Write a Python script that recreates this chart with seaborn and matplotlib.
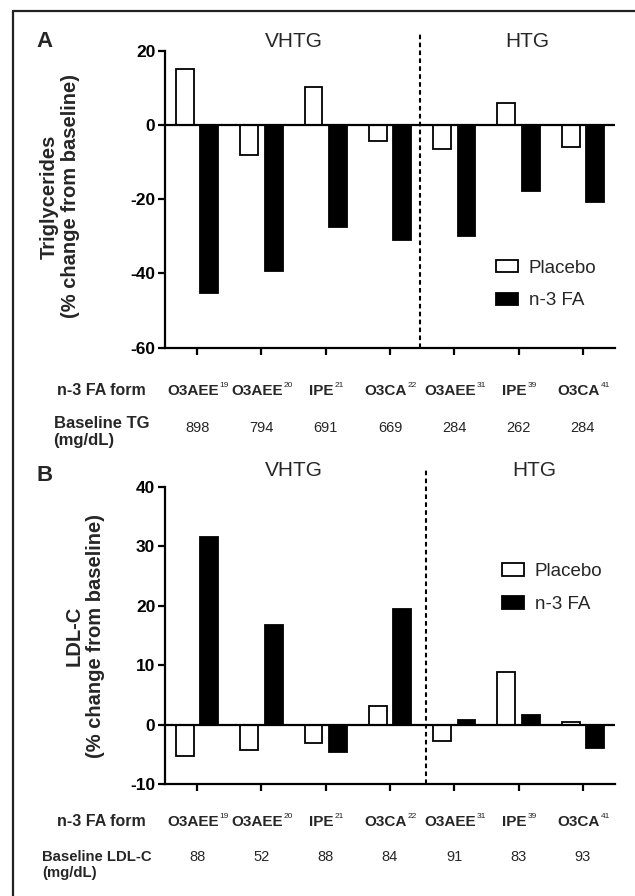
import matplotlib
matplotlib.use("Agg")
import matplotlib.pyplot as plt
from matplotlib.lines import Line2D
import seaborn as sns
import pandas as pd

# ---------------- data ----------------
forms = ["O3AEE", "O3AEE", "IPE", "O3CA", "O3AEE", "IPE", "O3CA"]
refs = ["19", "20", "21", "22", "31", "39", "41"]
groups = ["Placebo", "n-3 FA"]

tg_placebo = [15.0, -8.0, 10.2, -4.4, -6.4, 6.0, -5.9]
tg_n3 = [-45.2, -39.3, -27.4, -31.1, -29.8, -17.8, -20.8]
tg_baseline = ["898", "794", "691", "669", "284", "262", "284"]

ldl_placebo = [-5.3, -4.3, -3.1, 3.1, -2.8, 8.9, 0.5]
ldl_n3 = [31.6, 16.8, -4.6, 19.5, 0.8, 1.7, -3.9]
ldl_baseline = ["88", "52", "88", "84", "91", "83", "93"]

tg_yticks = [-60, -40, -20, 0, 20]
ldl_yticks = [-10, 0, 10, 20, 30, 40]

# ---------------- style ----------------
sns.set_style("ticks")
plt.rcParams["font.family"] = ["Liberation Sans", "DejaVu Sans"]

W, H = 635, 896
fig = plt.figure(figsize=(W / 100, H / 100), dpi=100)
fig.patch.set_facecolor("white")

def fx(px):
    return px / W

def fy(py):
    return 1 - py / H

cats = [f + r for f, r in zip(forms, refs)]
palette = {"Placebo": "white", "n-3 FA": "black"}


def make_df(plac, n3):
    rows = []
    for c, p, n in zip(cats, plac, n3):
        rows.append({"form": c, "group": "Placebo", "value": p})
        rows.append({"form": c, "group": "n-3 FA", "value": n})
    return pd.DataFrame(rows)


def panel(rect, plac, n3, baseline, yticks, ylim, dash_x, letter, letter_y,
          ylabel, ylabel_xy, top_y, htg_x, cat_y, val_y, row_lbl_y,
          base_label, base_y, base_x, base_fs, legend_anchor):
    ax = fig.add_axes(rect)
    df = make_df(plac, n3)
    sns.barplot(data=df, x="form", y="value", hue="group", order=cats,
                hue_order=groups, palette=palette, saturation=1,
                edgecolor="black", linewidth=1.3, width=0.76, gap=0.27,
                errorbar=None, ax=ax, legend=False)
    ax.set_xlim(-0.5, 6.5)
    ax.set_ylim(*ylim)
    ax.set_yticks(yticks)
    ax.set_yticklabels([str(t) for t in yticks], fontsize=12.5,
                       fontweight="bold")
    ax.set_xticks(range(len(cats)))
    ax.set_xticklabels([])
    ax.set_xlabel("")
    ax.set_ylabel("")
    for s in ["top", "right"]:
        ax.spines[s].set_visible(False)
    for s in ["left", "bottom"]:
        ax.spines[s].set_linewidth(1.6)
        ax.spines[s].set_color("black")
    ax.tick_params(axis="y", direction="out", length=5, width=1.6, pad=2,
                   colors="black")
    ax.tick_params(axis="x", direction="out", length=5, width=1.6,
                   colors="black")
    ax.axhline(0, color="black", lw=1.6, zorder=3)
    ax.set_facecolor("white")

    # dashed separator
    ax.plot([dash_x, dash_x], [0, 1.06], transform=ax.get_xaxis_transform(),
            color="black", lw=1.5, linestyle=(0, (2.2, 1.6)), clip_on=False,
            zorder=4)

    # group titles
    tr = ax.get_xaxis_transform()
    ax.text(1.5, top_y, "VHTG", transform=tr, ha="center", va="center",
            fontsize=15)
    ax.text(htg_x, top_y, "HTG", transform=tr, ha="center", va="center",
            fontsize=15)

    # category + baseline rows
    for i, (f, r, b) in enumerate(zip(forms, refs, baseline)):
        base = ax.annotate(f, xy=(i, cat_y), xycoords=tr, xytext=(-3, 0),
                           textcoords="offset points", ha="center",
                           va="center", fontsize=11, fontweight="bold",
                           annotation_clip=False)
        ax.annotate(r, xy=(1, 1), xycoords=base, xytext=(0.6, 1.5),
                    textcoords="offset points", ha="left", va="top",
                    fontsize=6, annotation_clip=False)
        ax.text(i, val_y, b, transform=tr, ha="center", va="center",
                fontsize=10.5, clip_on=False)

    fig.text(fx(146), fy(row_lbl_y), "n-3 FA form", ha="right", va="center",
             fontsize=11.5, fontweight="bold")
    fig.text(fx(base_x), fy(base_y), base_label, ha="right", va="center",
             multialignment="left", fontsize=base_fs, fontweight="bold",
             linespacing=1.1)

    # panel letter
    fig.text(fx(44.5), fy(letter_y), letter, ha="center", va="center",
             fontsize=16, fontweight="bold")
    # y label
    fig.text(fx(ylabel_xy[0]), fy(ylabel_xy[1]), ylabel, rotation=90,
             ha="center", va="center", multialignment="center",
             fontsize=14.5, fontweight="bold", linespacing=1.15)

    # legend
    handles = [plt.Rectangle((0, 0), 1, 1, facecolor=palette[g],
                             edgecolor="black", linewidth=1.3) for g in groups]
    ax.legend(handles, groups, loc="center left", bbox_to_anchor=legend_anchor,
              frameon=False, fontsize=13.5, handlelength=1.15,
              handleheight=0.65, handletextpad=0.6, labelspacing=0.85,
              borderpad=0, borderaxespad=0)
    return ax


# Panel A
panel(rect=[fx(165), fy(347.7), 450 / W, 297 / H],
      plac=tg_placebo, n3=tg_n3, baseline=tg_baseline, yticks=tg_yticks,
      ylim=(-60, 20), dash_x=3.47, letter="A", letter_y=41.7,
      ylabel="Triglycerides\n(% change from baseline)", ylabel_xy=(60, 196.5),
      top_y=(347.7 - 41) / 297, htg_x=5.14,
      cat_y=-(390.7 - 347.7) / 297, val_y=-(428 - 347.7) / 297,
      row_lbl_y=390.7, base_label="Baseline TG\n(mg/dL)", base_y=432,
      base_x=149, base_fs=12,
      legend_anchor=((496 - 165) / 450, (347.7 - 284.5) / 297))

# Panel B
panel(rect=[fx(165), fy(784.3), 450 / W, 297.6 / H],
      plac=ldl_placebo, n3=ldl_n3, baseline=ldl_baseline, yticks=ldl_yticks,
      ylim=(-10, 40), dash_x=3.56, letter="B", letter_y=475,
      ylabel="LDL-C\n(% change from baseline)", ylabel_xy=(85, 636),
      top_y=(784.3 - 470.7) / 297.6, htg_x=5.24,
      cat_y=-(821.7 - 784.3) / 297.6, val_y=-(856.7 - 784.3) / 297.6,
      row_lbl_y=821.7, base_label="Baseline LDL-C\n(mg/dL)", base_y=865,
      base_x=152, base_fs=10.7,
      legend_anchor=((502 - 165) / 450, (784.3 - 588) / 297.6))

# outer frame (left and top edges visible)
fig.add_artist(Line2D([fx(13), fx(13)], [0, fy(11)], color="#222222", lw=1.6))
fig.add_artist(Line2D([fx(13), 1], [fy(11), fy(11)], color="#222222", lw=1.6))

fig.savefig("out.png", dpi=100, facecolor="white")
